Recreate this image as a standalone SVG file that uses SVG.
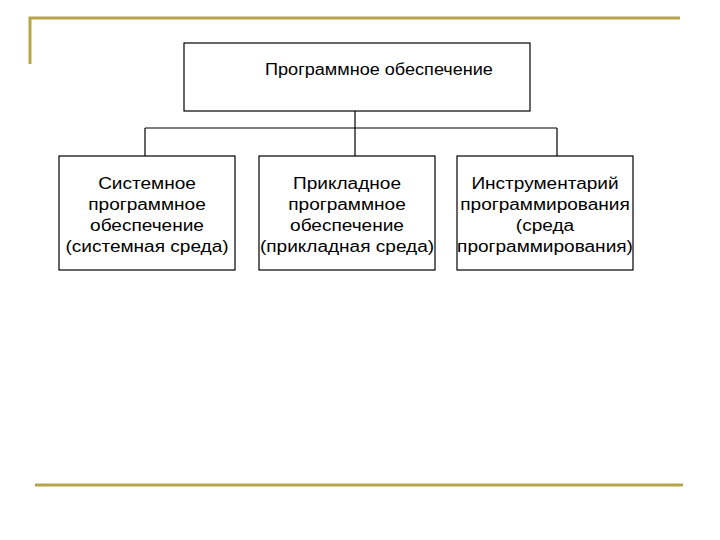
<svg xmlns="http://www.w3.org/2000/svg" width="720" height="540" viewBox="0 0 720 540">
<style>
.box{fill:#fff;stroke:#000;stroke-width:1.2}
.ln{stroke:#000;stroke-width:1.2;fill:none}
.t{font-family:"Liberation Sans",Arial,sans-serif;font-size:16px;fill:#000;text-anchor:middle}
.gold{stroke:#B5A44A;stroke-width:3;fill:none}
</style>
<rect width="720" height="540" fill="#fff"/>
<g id="frame">
<path class="gold" d="M30,64 V18 H680"/>
<path class="gold" d="M35,485 H683" stroke="#B89B5E"/>
</g>
<g id="connectors">
<path class="ln" d="M355,111 V128 M145,128 H557 M145,128 V156 M355,128 V156 M557,128 V156"/>
</g>
<g id="root">
<rect class="box" x="184" y="43" width="346" height="68"/>
<text class="t" transform="translate(379,75) scale(1.13,1)">Программное обеспечение</text>
</g>
<g id="system">
<rect class="box" x="59" y="156" width="176" height="114"/>
<g transform="translate(147,0) scale(1.19,1)">
<text class="t" y="189">Системное</text>
<text class="t" y="210">программное</text>
<text class="t" y="231">обеспечение</text>
<text class="t" y="252">(системная среда)</text>
</g>
</g>
<g id="applied">
<rect class="box" x="259" y="156" width="176" height="114"/>
<g transform="translate(347,0) scale(1.19,1)">
<text class="t" y="189">Прикладное</text>
<text class="t" y="210">программное</text>
<text class="t" y="231">обеспечение</text>
<text class="t" y="252">(прикладная среда)</text>
</g>
</g>
<g id="tools">
<rect class="box" x="457" y="156" width="176" height="114"/>
<g transform="translate(545,0) scale(1.19,1)">
<text class="t" y="189">Инструментарий</text>
<text class="t" y="210">программирования</text>
<text class="t" y="231">(среда</text>
<text class="t" y="252">программирования)</text>
</g>
</g>
</svg>
